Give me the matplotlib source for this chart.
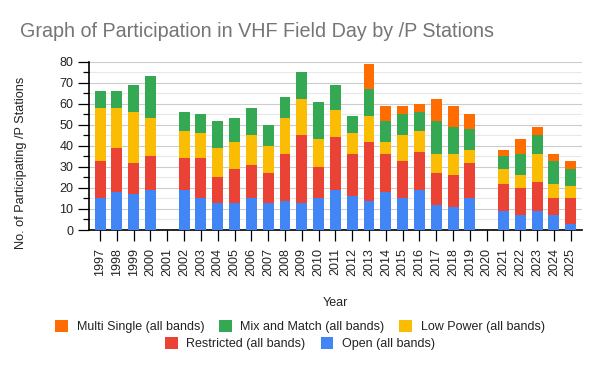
import matplotlib
matplotlib.use("Agg")
import matplotlib.pyplot as plt
from matplotlib.patches import Patch
from matplotlib.ticker import MultipleLocator
import numpy as np

plt.rcParams['font.family'] = ['Liberation Sans', 'DejaVu Sans']

# data (2001 and 2020 had no event)
years = [str(y) for y in range(1997, 2026)]
open_stations = [15, 18, 17, 19, 0, 19, 15, 13, 13, 15, 13, 14, 13, 15, 19,
                 16, 14, 18, 15, 19, 12, 11, 15, 0, 9, 7, 9, 7, 3]
restricted = [18, 21, 15, 16, 0, 15, 19, 12, 16, 16, 14, 22, 32, 15, 25,
              20, 28, 18, 18, 18, 15, 15, 17, 0, 13, 13, 14, 8, 12]
low_power = [25, 19, 24, 18, 0, 13, 12, 14, 13, 14, 13, 17, 17, 13, 13,
             10, 12, 6, 12, 10, 9, 10, 6, 0, 7, 6, 13, 7, 6]
mix_match = [8, 8, 13, 20, 0, 9, 9, 13, 11, 13, 10, 10, 13, 18, 12,
             8, 13, 10, 10, 9, 16, 13, 10, 0, 6, 10, 9, 11, 8]
multi_single = [0, 0, 0, 0, 0, 0, 0, 0, 0, 0, 0, 0, 0, 0, 0,
                0, 12, 7, 4, 4, 10, 10, 7, 0, 3, 7, 4, 3, 4]

series = [
    ("Open (all bands)", open_stations, "#4285F4"),
    ("Restricted (all bands)", restricted, "#EA4335"),
    ("Low Power (all bands)", low_power, "#FBBC04"),
    ("Mix and Match (all bands)", mix_match, "#34A853"),
    ("Multi Single (all bands)", multi_single, "#FF6D01"),
]

fig = plt.figure(figsize=(6, 3.71), dpi=100)
ax = fig.add_axes([0.148, 0.380, 0.822, 0.454])

x = np.arange(len(years))
bottom = np.zeros(len(years))
for name, vals, col in series:
    vals = np.array(vals, dtype=float)
    ax.bar(x, vals, 0.65, bottom=bottom, color=col, linewidth=0, zorder=3)
    bottom += vals

ax.set_xlim(-0.67, len(years) - 0.33)
ax.set_ylim(0, 80)
ax.yaxis.set_major_locator(MultipleLocator(10))
ax.yaxis.set_minor_locator(MultipleLocator(5))
ax.grid(axis='y', which='major', color='#cccccc', linewidth=0.8, zorder=0)
ax.grid(axis='y', which='minor', color='#e8e8e8', linewidth=0.8, zorder=0)

ax.set_xticks(x)
ax.set_xticklabels(years, rotation=90, fontsize=9, color='#222222')
ax.tick_params(axis='x', length=8, width=0.9, color='black', pad=5)
ax.tick_params(axis='y', which='major', length=8, width=0.9, labelsize=9,
               labelcolor='#222222', pad=3)
ax.tick_params(axis='y', which='minor', length=4, width=0.9)

for s in ['top', 'right']:
    ax.spines[s].set_visible(False)
for s in ['left', 'bottom']:
    ax.spines[s].set_color('black')
    ax.spines[s].set_linewidth(1.2)

ax.set_xlabel("Year", fontsize=9, color='#222222')
ax.xaxis.set_label_coords(0.5, -0.40)
ax.set_ylabel("No. of Participating /P Stations", fontsize=9.2, color='#222222')
ax.yaxis.set_label_coords(-0.126, 0.40)

fig.text(0.033, 0.915, "Graph of Participation in VHF Field Day by /P Stations",
         fontsize=14.2, color='#757575', va='center', ha='left')

# two legend rows, each centred like the original
lookup = {name: col for name, _, col in series}
row1 = ["Multi Single (all bands)", "Mix and Match (all bands)", "Low Power (all bands)"]
row2 = ["Restricted (all bands)", "Open (all bands)"]
for labels, ypos in [(row1, 0.119), (row2, 0.073)]:
    handles = [Patch(facecolor=lookup[l], edgecolor='none') for l in labels]
    fig.legend(handles, labels, loc='center', bbox_to_anchor=(0.5, ypos),
               ncol=len(labels), frameon=False, fontsize=9,
               handlelength=1.0, handleheight=1.0, handletextpad=0.7,
               columnspacing=1.2, labelcolor='#222222')

fig.savefig("out.png", dpi=100)
